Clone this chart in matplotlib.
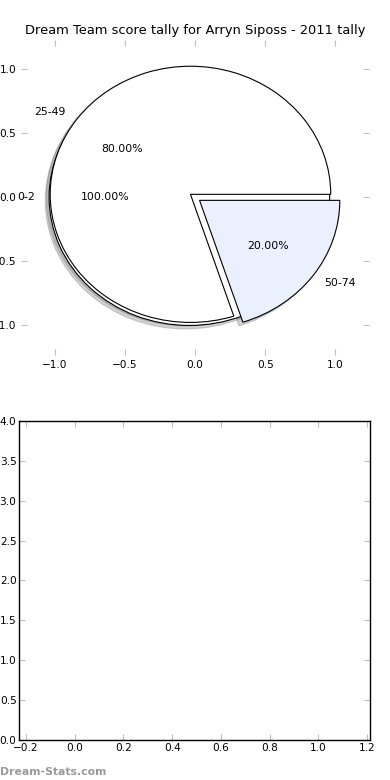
import matplotlib
matplotlib.use("Agg")
import matplotlib.pyplot as plt

title = "Dream Team score tally for Arryn Siposs - 2011 tally"
full_label = ["0-2"]
full_value = [1.0]
full_explode = [0.04]
part_labels = ["25-49", "50-74"]
part_values = [0.8, 0.2]
part_explode = [0.04, 0.04]
part_colors = ["white", "#EAF0FD"]

plt.rcParams['font.family'] = ['DejaVu Sans']
fig = plt.figure(figsize=(3.9, 7.8), dpi=100, facecolor='white')

shadow = dict(ox=-0.02, oy=-0.02, shade=0.5, alpha=0.35)
ax1 = fig.add_axes([0.054, 0.545, 0.892, 0.404])
ax1.pie(full_value, labels=full_label, autopct='%1.2f%%', shadow=shadow,
        explode=full_explode, colors=['white'],
        wedgeprops=dict(edgecolor='black', linewidth=0.8),
        textprops=dict(fontsize=7.8), normalize=False)
ax1.pie(part_values, labels=part_labels, autopct='%1.2f%%', shadow=shadow,
        explode=part_explode, colors=part_colors,
        wedgeprops=dict(edgecolor='black', linewidth=0.8),
        textprops=dict(fontsize=7.8), normalize=False)
ax1.set_aspect('auto')
ax1.set_xlim(-1.24, 1.24)
ax1.set_ylim(-1.23, 1.23)
ax1.set_frame_on(False)
ax1.set_xticks([-1.0, -0.5, 0.0, 0.5, 1.0])
ax1.set_yticks([-1.0, -0.5, 0.0, 0.5, 1.0])
ax1.tick_params(direction='in', length=4, color='0.75', labelsize=7.6,
                top=True, right=True, pad=3.5)
ax1.set_title(title, fontsize=9.4, pad=4)

ax2 = fig.add_axes([0.0495, 0.0513, 0.8995, 0.409])
ax2.set_xlim(-0.2275, 1.2125)
ax2.set_ylim(0, 4)
ax2.set_xticks([-0.2, 0.0, 0.2, 0.4, 0.6, 0.8, 1.0, 1.2])
ax2.set_yticks([0.0, 0.5, 1.0, 1.5, 2.0, 2.5, 3.0, 3.5, 4.0])
ax2.tick_params(direction='in', length=4, color='0.75', labelsize=7.6,
                top=True, right=True, pad=2)
for s in ax2.spines.values():
    s.set_linewidth(1.0)

fig.text(0.0, 0.004, "Dream-Stats.com", fontsize=7.8, fontweight='bold',
         color='#9a9a9a', ha='left', va='bottom')

fig.savefig("out.png", dpi=100, facecolor='white')
